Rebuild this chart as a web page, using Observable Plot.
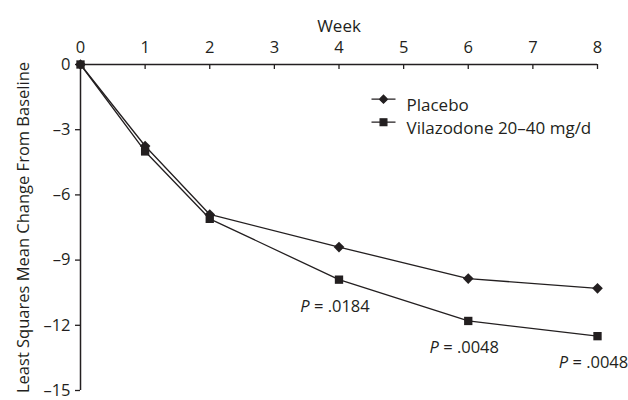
<!DOCTYPE html>
<html>
<head>
<meta charset="utf-8">
<script src="https://cdn.jsdelivr.net/npm/d3@7"></script>
<script src="https://cdn.jsdelivr.net/npm/@observablehq/plot@0.6"></script>
<style>
  html, body { margin: 0; padding: 0; background: #fff; }
  #chart { width: 628px; height: 400px; }
</style>
</head>
<body>
<div id="chart"></div>
<script>
// ---- data ----
const weeks = [0, 1, 2, 4, 6, 8];
const placebo = [0, -3.75, -6.9, -8.4, -9.85, -10.3];
const vilazodone = [0, -4.0, -7.1, -9.9, -11.8, -12.5];
const seriesNames = ["Placebo", "Vilazodone 20–40 mg/d"];
const xTicks = [0, 1, 2, 3, 4, 5, 6, 7, 8];
const yTicks = [0, -3, -6, -9, -12, -15];
const pWeeks = [4, 6, 8];
const pLabels = ["P = .0184", "P = .0048", "P = .0048"];
const xTitle = "Week";
const yTitle = "Least Squares Mean Change From Baseline";

const ink = "#231f20";

const placeboRows = weeks.map((w, i) => ({week: w, value: placebo[i]}));
const vilaRows = weeks.map((w, i) => ({week: w, value: vilazodone[i]}));
const pRows = pWeeks.map((w, i) => ({week: w, value: vilazodone[weeks.indexOf(w)], label: pLabels[i]}));

const legendDiamond = {draw(ctx, size) { ctx.moveTo(-12, 0); ctx.lineTo(12, 0); d3.symbolDiamond2.draw(ctx, size); }};
const legendSquare = {draw(ctx, size) { ctx.moveTo(-12, 0); ctx.lineTo(12, 0); d3.symbolSquare.draw(ctx, size); }};

const chart = Plot.plot({
  width: 628,
  height: 400,
  marginLeft: 80,
  marginRight: 31,
  marginTop: 64,
  marginBottom: 10,
  style: {fontFamily: "'Open Sans', sans-serif", fontSize: "16.5px", color: ink, background: "#fff"},
  x: {domain: [0, 8]},
  y: {domain: [-15, 0]},
  marks: [
    Plot.axisX({anchor: "top", ticks: xTicks, tickSize: 0, tickPadding: 12, label: null, tickFormat: d => String(d)}),
    Plot.ruleX(xTicks, {x: d => d, y1: 0, y2: 0, insetBottom: -5, stroke: ink, strokeWidth: 1.3}),
    Plot.axisY({anchor: "left", ticks: yTicks, tickSize: 5, tickPadding: 5, label: null, strokeWidth: 1.3,
      tickFormat: d => d < 0 ? "–" + Math.abs(d) : String(d)}),
    Plot.ruleY([0], {stroke: ink, strokeWidth: 1.5}),
    Plot.ruleX([0], {stroke: ink, strokeWidth: 1.5}),
    Plot.text([xTitle], {frameAnchor: "top", dy: -45, text: d => d, fill: ink, fontSize: 17}),
    Plot.text([yTitle], {frameAnchor: "left", dx: -57, rotate: -90, textAnchor: "middle", text: d => d, fill: ink, fontSize: 16.5}),
    Plot.line(placeboRows, {x: "week", y: "value", stroke: ink, strokeWidth: 1.3}),
    Plot.line(vilaRows, {x: "week", y: "value", stroke: ink, strokeWidth: 1.3}),
    Plot.dot(placeboRows, {x: "week", y: "value", symbol: "diamond2", r: 4.8, fill: ink, stroke: "none"}),
    Plot.dot(vilaRows, {x: "week", y: "value", symbol: "square", r: 4.7, fill: ink, stroke: "none"}),
    Plot.text(pRows, {x: "week", y: "value", text: "label", dy: 27, dx: -4, textAnchor: "middle", fill: ink, fontSize: 16.5}),
    // legend
    Plot.dot([seriesNames[0]], {frameAnchor: "top-left", dx: 303, dy: 34.7, symbol: legendDiamond, r: 3.6, fill: ink, stroke: ink, strokeWidth: 1.3}),
    Plot.dot([seriesNames[1]], {frameAnchor: "top-left", dx: 303, dy: 57.7, symbol: legendSquare, r: 3.8, fill: ink, stroke: ink, strokeWidth: 1.3}),
    Plot.text([seriesNames[0]], {frameAnchor: "top-left", dx: 326, dy: 34.7, text: d => d, textAnchor: "start", fill: ink, fontSize: 17}),
    Plot.text([seriesNames[1]], {frameAnchor: "top-left", dx: 326, dy: 57.7, text: d => d, textAnchor: "start", fill: ink, fontSize: 17})
  ]
});

// italic P in p-value annotations
d3.select(chart).selectAll("text").each(function() {
  const t = this.textContent;
  if (/^P = /.test(t)) {
    const el = d3.select(this);
    el.selectAll("*").remove();
    el.text(null);
    el.append("tspan").attr("font-style", "italic").text("P");
    el.append("tspan").text(t.slice(1));
  }
});

document.getElementById("chart").appendChild(chart);
</script>
</body>
</html>
